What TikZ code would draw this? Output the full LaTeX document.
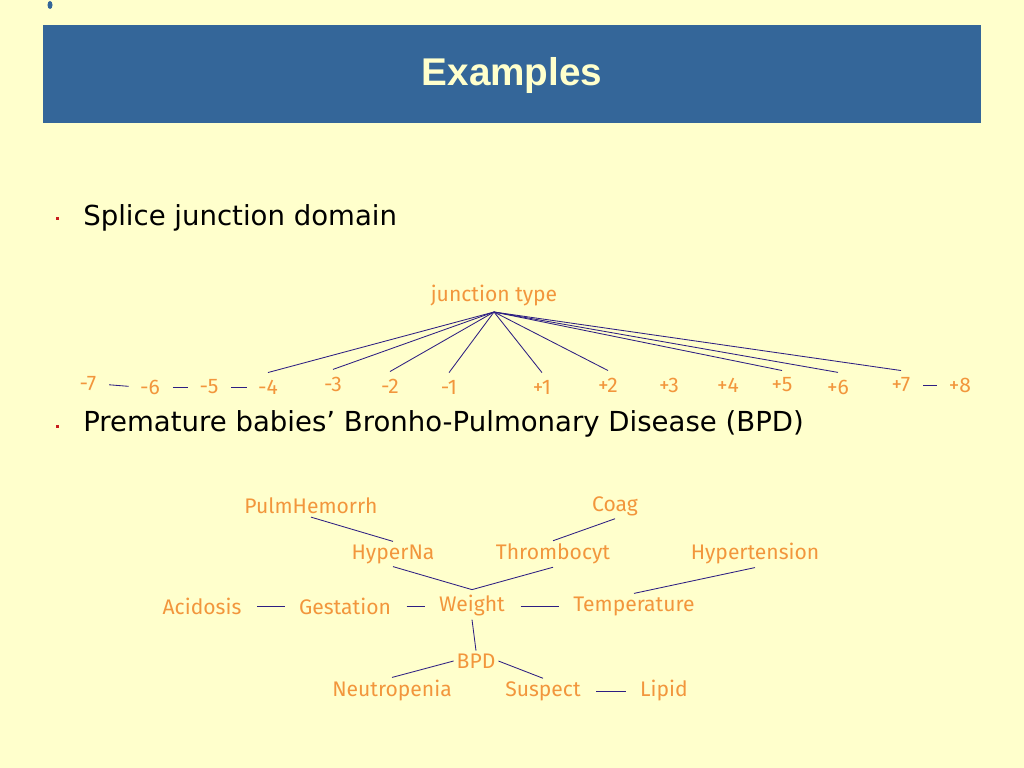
\documentclass[tikz,border=0pt]{standalone}
\usepackage{fontspec}
\usepackage{tikz}
\usetikzlibrary{positioning,calc}
\newfontfamily\bulletfont{DejaVu Sans}
\newfontfamily\labelfont{Fira Sans}
\newfontfamily\titlefont{Liberation Sans}
\definecolor{slidebg}{RGB}{255,255,204}
\definecolor{barblue}{RGB}{52,102,153}
\definecolor{lbl}{RGB}{242,150,60}
\definecolor{linkblue}{RGB}{45,30,130}
\definecolor{dotred}{RGB}{200,30,30}

\begin{document}
\begin{tikzpicture}[x=0.025cm,y=-0.025cm,
    lab/.style={text=lbl,font=\labelfont\fontsize{15}{17}\selectfont,inner sep=2pt},
    poslab/.style={lab,inner xsep=2pt,inner ysep=5pt},
    link/.style={draw=linkblue,line width=0.6pt},
    gaplink/.style={link,shorten <=9pt,shorten >=8pt},
    tick/.style={link,shorten <=7pt,shorten >=6pt}]
  % --- slide background and title bar ---
  \fill[slidebg] (0,0) rectangle (1024,768);
  \useasboundingbox (0,0) rectangle (1024,768);
  \fill[barblue] (43,25) rectangle (981,123);
  \fill[barblue] (50,5) ellipse (2.5 and 4);
  \node[text=slidebg,font=\titlefont\bfseries\fontsize{27.5}{30}\selectfont] (title) at (512,76) {Examples};
  % bullets
  \fill[dotred] (55.5,216.5) rectangle (58.5,219.5);
  \node[anchor=base west,font=\bulletfont\fontsize{19.6}{23}\selectfont,inner sep=0pt] (b1) at (83,225) {Splice junction domain};
  \fill[dotred] (55.5,424.5) rectangle (58.5,427.5);
  \node[anchor=base west,font=\bulletfont\fontsize{19.6}{23}\selectfont,inner sep=0pt] (b2) at (83,431) {Premature babies’ Bronho-Pulmonary Disease (BPD)};
  % --- splice junction: class node and positions ---
  \node[lab] (jt) at (494,296) {junction type};
  \coordinate (jtfoot) at (494,312);
  \foreach \n/\t/\x/\y in {m7/-7/88/384, m6/-6/150/387, m5/-5/209/387, m4/-4/268/387,
      m3/-3/333/384, m2/-2/390/386, m1/-1/449/387, p1/+1/542/387, p2/+2/608/385,
      p3/+3/669/385, p4/+4/728/385, p5/+5/782/385, p6/+6/838/387, p7/+7/901/385, p8/+8/960/385}
    \node[poslab] (\n) at (\x,\y) {\t};
  \foreach \n in {m4,m3,m2,m1,p1,p2,p5,p6,p7}
    \draw[link] (jtfoot) -- (\n.north);
  \draw[tick] (m7.east) -- (m6.west);
  \draw[tick] (m6.east) -- (m5.west);
  \draw[tick] (m5.east) -- (m4.west);
  \draw[tick] (p7.east) -- (p8.west);
  % --- BPD network ---
  \node[lab] (pulm) at (311,506) {PulmHemorrh};
  \node[lab] (coag) at (615,506) {Coag};
  \node[lab] (hyperna) at (393,554) {HyperNa};
  \node[lab] (thromb) at (553,554) {Thrombocyt};
  \node[lab] (hypert) at (755,554) {Hypertension};
  \node[lab] (acid) at (202,606) {Acidosis};
  \node[lab] (gest) at (345,606) {Gestation};
  \node[lab] (weight) at (472,606) {Weight};
  \node[lab] (temp) at (634,606) {Temperature};
  \node[lab] (bpd) at (476,661) {BPD};
  \node[lab] (neutro) at (392,691) {Neutropenia};
  \node[lab] (susp) at (543,691) {Suspect};
  \node[lab] (lipid) at (664,691) {Lipid};
  \draw[link] (pulm.south) -- (hyperna.north);
  \draw[link] (coag.south) -- (thromb.north);
  \draw[link] (hyperna.south) -- ([yshift=2pt]weight.north);
  \draw[link] (thromb.south) -- ([yshift=2pt]weight.north);
  \draw[link] (hypert.south) -- (temp.north);
  \draw[gaplink] (acid.east) -- (gest.west);
  \draw[gaplink] (gest.east) -- (weight.west);
  \draw[gaplink] (weight.east) -- (temp.west);
  \draw[link] (weight.south) -- (bpd.north);
  \draw[link] (bpd.west) -- (neutro.north);
  \draw[link] (bpd.east) -- (susp.north);
  \draw[gaplink] (susp.east) -- (lipid.west);
\end{tikzpicture}
\end{document}
